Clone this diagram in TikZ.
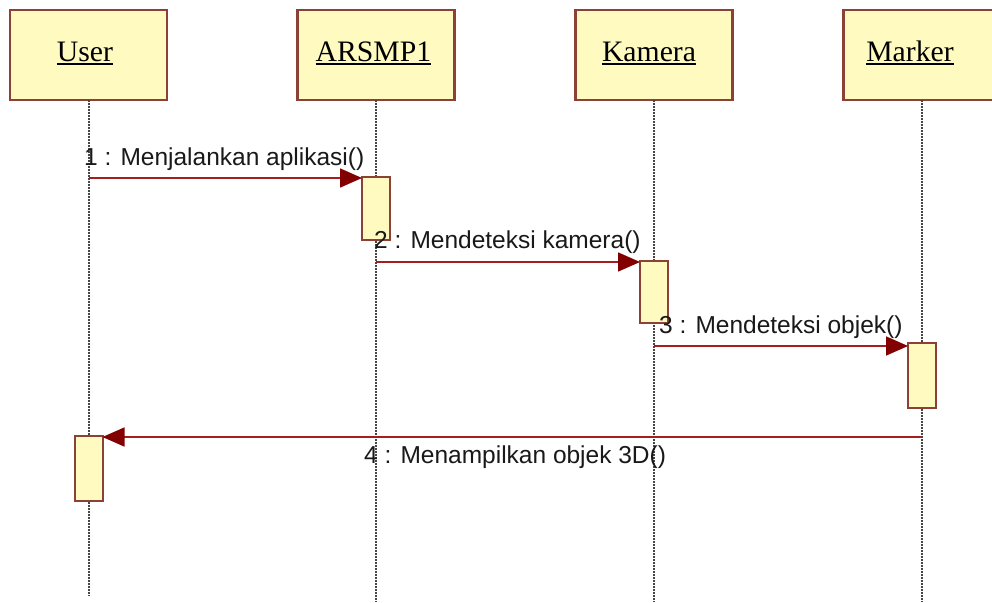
\documentclass[tikz,border=0pt]{standalone}
\usepackage{fontspec}
\setmainfont{Liberation Serif}
\newfontfamily\msgfont{Liberation Sans}
\usetikzlibrary{arrows.meta}
\definecolor{boxfill}{RGB}{255,251,192}
\definecolor{boxline}{RGB}{140,65,55}
\definecolor{msgline}{RGB}{165,30,30}
\definecolor{msghead}{RGB}{130,0,0}
\definecolor{lifecol}{RGB}{70,70,70}
\definecolor{txt}{RGB}{25,25,25}
\begin{document}
\begin{tikzpicture}[x=1pt,y=-1pt,
  headbox/.style={draw=boxline, line width=2.5pt, fill=boxfill, minimum width=157pt, minimum height=90pt, inner sep=0pt, outer sep=0pt},
  headlabel/.style={font=\fontsize{29.7}{32}\selectfont, inner sep=0pt, anchor=base, text=black},
  uline/.style={line width=2pt, black},
  actbox/.style={draw=boxline, line width=2pt, fill=boxfill, minimum width=28pt, inner sep=0pt, outer sep=0pt},
  lifeln/.style={draw=lifecol, line width=2pt, dash pattern=on 1.5pt off 1.5pt},
  msgarrow/.style={draw=msgline, line width=1.6pt, -{Triangle[length=22pt,width=19pt,color=msghead]}},
  msglabel/.style={font=\msgfont\fontsize{24.5}{28}\selectfont, text=txt, inner sep=0pt, anchor=base west}
]
\clip (0,0) rectangle (992,602);
\fill[white] (0,0) rectangle (992,602);

% heads
\node[headbox] (u) at (88.5,55) {};
\node[headbox] (a) at (376,55) {};
\node[headbox] (k) at (654,55) {};
\node[headbox] (m) at (922,55) {};

\node[headlabel] (ul) at (85,61) {User};
\node[headlabel] (al) at (373.5,61) {ARSMP1};
\node[headlabel] (kl) at (649,61) {Kamera};
\node[headlabel] (ml) at (910,61) {Marker};
\foreach \n in {ul,al,kl,ml}
  \draw[uline] ([yshift=-2.5pt]\n.base west) -- ([yshift=-2.5pt]\n.base east);

% lifelines
\coordinate (ue) at (88.5,596);
\coordinate (ae) at (376,602);
\coordinate (ke) at (654,602);
\coordinate (me) at (922,602);
\draw[lifeln] (u.south) -- (ue);
\draw[lifeln] (a.south) -- (ae);
\draw[lifeln] (k.south) -- (ke);
\draw[lifeln] (m.south) -- (me);

% activations
\node[actbox, minimum height=63pt] (act1) at (376,208.5) {};
\node[actbox, minimum height=62pt] (act2) at (654,292) {};
\node[actbox, minimum height=65pt] (act3) at (922,375.5) {};
\node[actbox, minimum height=65pt] (act4) at (88.5,468.5) {};

% messages
\coordinate (m1s) at (88.5,178);
\coordinate (m2s) at (376,262);
\coordinate (m3s) at (654,346);
\coordinate (m4s) at (922,437);
\draw[msgarrow] (m1s) -- (act1.west |- m1s);
\draw[msgarrow] (m2s) -- (act2.west |- m2s);
\draw[msgarrow] (m3s) -- (act3.west |- m3s);
\draw[msgarrow] (m4s) -- (act4.east |- m4s);

\node[msglabel] (t1) at (84,165) {1 : Menjalankan aplikasi()};
\node[msglabel] (t2) at (374,248) {2 : Mendeteksi kamera()};
\node[msglabel] (t3) at (659,333) {3 : Mendeteksi objek()};
\node[msglabel] (t4) at (364,463) {4 : Menampilkan objek 3D()};
\end{tikzpicture}
\end{document}
